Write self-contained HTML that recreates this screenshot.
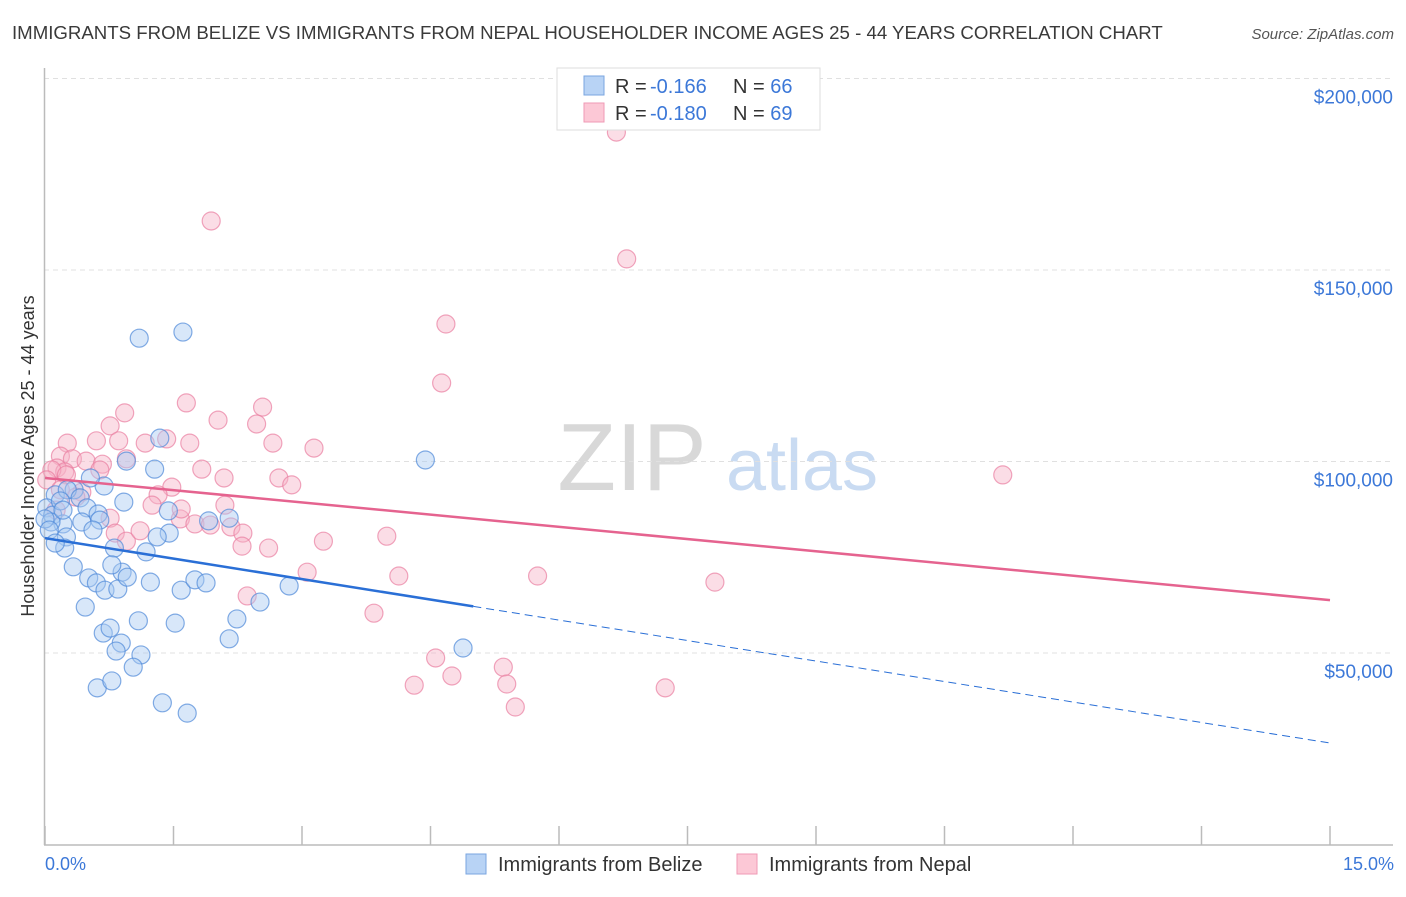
<!DOCTYPE html>
<html><head><meta charset="utf-8"><style>
body{margin:0;background:#fff;font-family:"Liberation Sans",sans-serif}
svg text{font-family:"Liberation Sans",sans-serif}
</style></head><body>
<svg id="chart" width="1406" height="892" viewBox="0 0 1406 892" xmlns="http://www.w3.org/2000/svg">
<text x="12" y="39" font-size="18.65" fill="#3a3a3a">IMMIGRANTS FROM BELIZE VS IMMIGRANTS FROM NEPAL HOUSEHOLDER INCOME AGES 25 - 44 YEARS CORRELATION CHART</text>
<text x="1394" y="39" font-size="15" fill="#555" font-style="italic" text-anchor="end">Source: ZipAtlas.com</text>
<g>
<text x="632" y="490" font-size="96" fill="#d8d8d8" font-family="Liberation Serif" text-anchor="middle">ZIP</text>
<text x="802" y="490" font-size="72" fill="#c9dbf2" text-anchor="middle">atlas</text>
</g>
<g id="grid"></g>
<g id="axes"></g>
<g id="marks"></g>
<text transform="translate(34,456) rotate(-90)" font-size="18" fill="#333" text-anchor="middle">Householder Income Ages 25 - 44 years</text>
<text x="45" y="870" font-size="18" fill="#3c78d8">0.0%</text>
<text x="1394" y="870" font-size="18" fill="#3c78d8" text-anchor="end">15.0%</text>
<g>
<rect x="557" y="68" width="263" height="62" fill="#fff" stroke="#ddd"/>
<rect x="584" y="76" width="20" height="19" fill="#b8d3f5" stroke="#7aa6e0"/>
<rect x="584" y="103" width="20" height="19" fill="#fcc8d6" stroke="#ef9ab5"/>
<text x="615" y="93" font-size="20" fill="#333">R = <tspan x="650" fill="#3c78d8">-0.166</tspan><tspan x="733">N = </tspan><tspan fill="#3c78d8">66</tspan></text>
<text x="615" y="120" font-size="20" fill="#333">R = <tspan x="650" fill="#3c78d8">-0.180</tspan><tspan x="733">N = </tspan><tspan fill="#3c78d8">69</tspan></text>
</g>
<g>
<rect x="466" y="854" width="20" height="20" fill="#b8d3f5" stroke="#7aa6e0"/>
<text x="498" y="871" font-size="20" fill="#333">Immigrants from Belize</text>
<rect x="737" y="854" width="20" height="20" fill="#fcc8d6" stroke="#ef9ab5"/>
<text x="769" y="871" font-size="20" fill="#333">Immigrants from Nepal</text>
</g>
</svg>
<script>
const belizeX=[1.10,1.61,4.44,4.88,0.95,1.28,1.34,0.69,0.92,0.53,0.34,0.12,0.02,0.09,0.21,0.07,0.26,0.41,0.49,0.62,0.43,0.64,0.56,0.25,0.23,0.81,1.18,1.45,1.31,1.91,2.15,0.33,0.51,0.90,1.23,0.60,0.70,0.85,0.96,1.59,1.75,1.88,2.51,2.85,0.47,1.09,1.52,2.24,0.68,0.76,0.89,0.83,1.12,2.15,1.03,0.61,0.78,1.37,1.66,0.0,0.18,0.21,0.78,0.05,0.12,1.44];
const belizeY=[132.2,133.8,100.4,51.3,100.1,98.0,106.1,93.6,89.4,95.7,92.6,91.3,87.9,86.0,83.7,84.2,92.6,90.5,87.9,86.3,84.2,84.7,82.1,80.3,77.4,77.4,76.4,81.3,80.3,84.5,85.2,72.5,69.6,71.1,68.5,68.3,66.4,66.7,69.8,66.4,69.1,68.3,63.3,67.5,62.0,58.4,57.8,58.9,55.2,56.5,52.6,50.5,49.5,53.7,46.3,40.9,42.7,37.0,34.3,85.0,89.7,87.3,73.0,82.1,78.7,87.1];
const nepalX=[6.67,1.94,6.79,4.68,4.63,11.18,1.65,0.93,2.54,2.02,2.47,0.76,0.26,0.60,0.86,1.17,1.42,1.69,2.66,3.14,0.18,0.32,0.48,0.67,0.95,0.14,0.23,0.08,0.02,0.64,1.83,2.73,2.88,0.43,1.48,1.32,1.25,2.09,2.10,0.13,0.76,0.82,0.95,1.11,1.58,1.75,1.93,2.17,2.31,2.30,2.61,3.25,3.99,0.36,0.25,0.18,1.59,3.06,4.13,5.75,7.82,2.36,3.84,4.56,4.75,4.31,5.35,5.39,5.49,7.24];
const nepalY=[186.0,162.8,152.9,135.9,120.5,96.5,115.3,112.7,114.2,110.8,109.8,109.3,104.8,105.4,105.4,104.8,105.9,104.8,104.8,103.5,101.4,100.7,100.1,99.3,100.7,98.3,97.3,97.8,95.2,97.8,98.0,95.7,93.9,92.0,93.3,91.3,88.6,95.7,88.6,87.3,85.2,81.3,79.2,81.9,85.0,83.7,83.4,82.9,81.3,77.9,77.4,79.2,80.5,90.7,96.5,92.6,87.6,71.1,70.1,70.1,68.5,64.9,60.4,48.7,44.0,41.6,46.3,41.9,35.9,40.9];
const trendBelize=[80.0,26.5];
const trendNepal=[95.7,63.8];
const belizeSolidEnd=[5.0];
const yTicks=[50,100,150,200];
const yTickLabels=["$50,000","$100,000","$150,000","$200,000"];
const xTicks=[0,1.5,3,4.5,6,7.5,9,10.5,12,13.5,15];

const NS="http://www.w3.org/2000/svg";
const xs=v=>45+v/15*1285;
const ys=v=>653-(v-50)*191.5/50;
function mk(parent,tag,attrs){const e=document.createElementNS(NS,tag);for(const k in attrs)e.setAttribute(k,attrs[k]);document.getElementById(parent).appendChild(e);return e;}
yTicks.forEach((t,i)=>{
  const l=mk('grid','line',{x1:44,x2:1393,y1:ys(t),y2:ys(t),stroke:'#e0e0e0','stroke-dasharray':'5,4'});
  
  
  const tx=mk('grid','text',{x:1393,y:ys(t)+25,'font-size':19,fill:'#3c78d8','text-anchor':'end'});
  tx.textContent=yTickLabels[i];
  
  
});
const ax=mk('axes','line',{x1:44.5,x2:44.5,y1:68,y2:845,stroke:'#bbb','stroke-width':1.5});


const bx=mk('axes','line',{x1:44,x2:1393,y1:845,y2:845,stroke:'#bbb','stroke-width':1.5});


xTicks.forEach(t=>{
  const l=mk('axes','line',{x1:xs(t),x2:xs(t),y1:826,y2:845,stroke:'#bbb','stroke-width':1.5});
  
  
});
function pts(X,Y,fill,stroke,name){
  X.forEach((x,i)=>{
    const c=mk('marks','circle',{cx:xs(x),cy:ys(Y[i]),r:9,fill:fill,'fill-opacity':0.45,stroke:stroke,'stroke-opacity':0.7,'stroke-width':1.2});
    
    
  });
}
pts(nepalX,nepalY,'#f7b3c7','#e97fa1','nepal-point');
pts(belizeX,belizeY,'#a9c9f2','#4f89d8','belize-point');
const lb=v=>trendBelize[0]+(trendBelize[1]-trendBelize[0])*v/15;
const t1=mk('marks','line',{x1:xs(0),y1:ys(lb(0)),x2:xs(belizeSolidEnd[0]),y2:ys(lb(belizeSolidEnd[0])),stroke:'#2a6fd6','stroke-width':2.5});


const t2=mk('marks','line',{x1:xs(belizeSolidEnd[0]),y1:ys(lb(belizeSolidEnd[0])),x2:xs(15),y2:ys(lb(15)),stroke:'#2a6fd6','stroke-width':1,'stroke-dasharray':'8,5'});


const t3=mk('marks','line',{x1:xs(0),y1:ys(trendNepal[0]),x2:xs(15),y2:ys(trendNepal[1]),stroke:'#e5638f','stroke-width':2.5});


</script>
</body></html>
